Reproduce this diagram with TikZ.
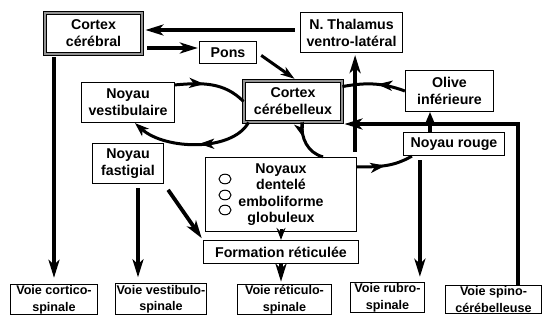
\documentclass[tikz,border=0pt]{standalone}
\usepackage{fontspec}
\setmainfont{Liberation Sans}
\usetikzlibrary{arrows.meta,decorations.markings}
\tikzset{
  box/.style={draw, line width=1.2pt, fill=white, align=center, inner sep=1pt,
    font=\fontsize{14.2}{17}\selectfont\bfseries},
  voie/.style={box, font=\fontsize{12.6}{16.5}\selectfont\bfseries},
  dbox/.style={box, double=gray!85, double distance=2.4pt, line width=0.9pt},
  bigarrow/.style={line width=3.8pt, -{Stealth[length=18pt,width=11pt,inset=5pt]}},
  loopline/.style={line width=3pt},
  midarrow/.style={postaction={decorate},decoration={
    markings,mark=at position #1 with {\arrow{Stealth[length=15pt,width=10pt,inset=4pt]}}}}}

\begin{document}
\begin{tikzpicture}[x=1pt,y=-1pt]
  \useasboundingbox (0,0) rectangle (544,323);
  % boxes
  \node[dbox, minimum width=97pt, minimum height=41pt] (cerebral) at (93.5,33.5) {Cortex\\cérébral};
  \node[box, minimum width=102pt, minimum height=40pt] (thalamus) at (351.5,32.5) {N. Thalamus\\ventro-latéral};
  \node[box, minimum width=57pt, minimum height=22pt] (pons) at (228,52.5) {Pons};
  \node[dbox, minimum width=98pt, minimum height=41pt] (cerebel) at (293,101.5) {Cortex\\cérébelleux};
  \node[box, minimum width=93pt, minimum height=40pt] (vestib) at (128,102.5) {Noyau\\vestibulaire};
  \node[box, minimum width=88pt, minimum height=41pt] (olive) at (449.5,91) {Olive\\inférieure};
  \node[box, minimum width=101pt, minimum height=23pt] (rouge) at (454,144) {Noyau rouge};
  \node[box, minimum width=71pt, minimum height=40pt] (fastig) at (128,163.5) {Noyau\\fastigial};
  \node[box, minimum width=151pt, minimum height=74pt, font=\fontsize{14.2}{16.4}\selectfont\bfseries]
    (noyaux) at (281,194.5) {Noyaux\\dentelé\\emboliforme\\globuleux};
  \draw[line width=1pt] (225,179) ellipse (6 and 4.8) (225,195) ellipse (6 and 4.8) (225,210) ellipse (6 and 4.8);
  \node[box, minimum width=155pt, minimum height=23pt] (reticul) at (281,252) {Formation réticulée};
  \node[voie, minimum width=87pt, minimum height=28pt] (vcortico) at (54,299.5) {Voie cortico-\\spinale};
  \node[voie, minimum width=91pt, minimum height=29pt] (vvestib) at (161,299) {Voie vestibulo-\\spinale};
  \node[voie, minimum width=94pt, minimum height=28pt] (vretic) at (284.5,299.5) {Voie réticulo-\\spinale};
  \node[voie, minimum width=74pt, minimum height=28pt] (vrubro) at (387.5,297.5) {Voie rubro-\\spinale};
  \node[voie, minimum width=96pt, minimum height=28pt] (vspino) at (493.5,299.5) {Voie spino-\\cérébelleuse};
  % helper points
  \coordinate (rr) at ([xshift=17pt]rouge.south west);
  \coordinate (ro) at ([xshift=-24pt]rouge.north);
  \coordinate (sp) at ([xshift=24.5pt]vspino.north);
  \coordinate (dt) at ([xshift=-2pt,yshift=5pt]noyaux.north east);
  \coordinate (fv) at ([xshift=10pt]fastig.south);
  % straight connectors
  \draw[bigarrow, shorten <=5pt, shorten >=3pt] (thalamus.west |- 0,30) -- (cerebral.east |- 0,30);
  \draw[bigarrow, shorten <=5pt, shorten >=1pt] (cerebral.east |- 0,48) -- (pons.west |- 0,48);
  \draw[line width=3pt, -{Stealth[length=14pt,width=9pt,inset=4pt]}, shorten <=5pt, shorten >=3pt]
    (pons.east) -- ([xshift=4pt]cerebel.north);
  \draw[bigarrow, shorten <=3pt, shorten >=6pt] (cerebral.south -| vcortico.north) -- (vcortico.north);
  \draw[bigarrow, shorten <=4pt, shorten >=6pt] (fv) -- (fv |- vvestib.north);
  \draw[bigarrow, shorten <=7pt, shorten >=2pt] (fastig.south east) -- (reticul.north west);
  \draw[line width=3pt, -{Stealth[length=12pt,width=9pt,inset=4pt]}] ([yshift=3pt]noyaux.south) -- (reticul.north);
  \draw[bigarrow, shorten >=2pt] (reticul.south) -- (reticul.south |- vretic.north);
  \draw[bigarrow, shorten <=4pt, shorten >=5pt] (rr) -- (rr |- vrubro.north);
  \draw[bigarrow, -{Stealth[length=12pt,width=10pt,inset=4pt]}] (ro) -- (ro |- olive.south);
  \draw[bigarrow, shorten >=2pt] (sp) |- (cerebel.east |- 0,124);
  \draw[bigarrow, shorten >=2pt] (dt) -- (dt |- thalamus.south);
  % loops
  \draw[loopline, midarrow=0.4] ([yshift=-3pt]vestib.north east) to[out=5, in=135] (cerebel.west);
  \draw[loopline, midarrow=0.45, -{Stealth[length=14pt,width=10pt,inset=4pt]}]
    ([xshift=5pt]cerebel.south west) .. controls (232,152) and (165,150) .. ([xshift=7pt]vestib.south);
  \draw[loopline, midarrow=0.35] ([xshift=9pt]cerebel.south) to[out=-95, in=165] ([xshift=42pt]noyaux.north);
  \draw[loopline, midarrow=0.5] ([yshift=-10pt]noyaux.north east) to[out=0, in=-150] ([xshift=9pt]rouge.south west);
  \draw[loopline, midarrow=0.45] (olive.west) to[out=160, in=10] ([yshift=-6pt]cerebel.north east);
\end{tikzpicture}
\end{document}
